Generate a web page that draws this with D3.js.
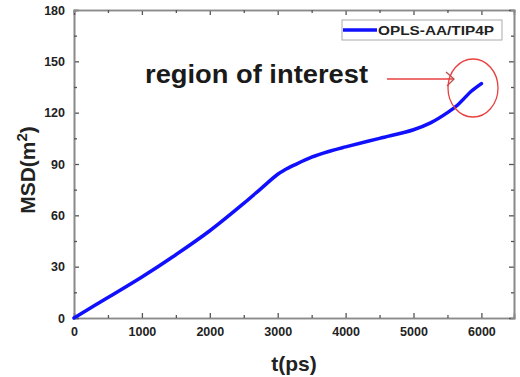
<!DOCTYPE html>
<html>
<head>
<meta charset="utf-8">
<script src="https://cdn.jsdelivr.net/npm/d3@7"></script>
<style>
  body { margin: 0; background: #fff; }
  text { font-family: "Liberation Sans", Arial, sans-serif; font-weight: bold; }
</style>
</head>
<body>
<div id="chart"></div>
<script>
// data
let times = [0, 500, 1000, 1500, 2000, 2500, 2750, 3000, 3100, 3250, 3500, 3750, 4000, 4500, 5000, 5250, 5500, 5650, 5750, 5850, 6000];
let msd   = [0, 12, 24, 37, 51, 67, 75.5, 84, 86.5, 89.5, 94, 97.3, 100, 105, 110, 114, 120, 124.5, 128.5, 132.5, 137];
let xTicks = [0, 1000, 2000, 3000, 4000, 5000, 6000];
let yTicks = [0, 30, 60, 90, 120, 150, 180];
let seriesName = "OPLS-AA/TIP4P";

let width = 520, height = 377;
let margin = {left: 74, right: 6, top: 10, bottom: 59};

let svg = d3.select("#chart").append("svg")
    .attr("width", width)
    .attr("height", height);

let x = d3.scaleLinear().domain([0, 6480]).range([margin.left, width - margin.right]);
let y = d3.scaleLinear().domain([0, 180]).range([height - margin.bottom, margin.top]);

let axisColor = "#8a8a8a";
let labelColor = "#222";

// minor ticks
let xMinor = d3.range(500, 6500, 1000);
let yMinor = d3.range(15, 180, 30);

function styleAxis(g) {
    g.select(".domain").attr("stroke", axisColor).attr("stroke-width", 1.6);
    g.selectAll(".tick line").attr("stroke", "#555").attr("stroke-width", 1.3);
    g.selectAll(".tick text").attr("fill", labelColor).style("font-size", "12.5px");
}

// bottom
svg.append("g")
    .attr("transform", "translate(0," + y(0) + ")")
    .call(d3.axisBottom(x).tickValues(xTicks).tickSize(-5).tickPadding(9).tickFormat(d3.format("d")))
    .call(styleAxis);
svg.append("g")
    .attr("transform", "translate(0," + y(0) + ")")
    .call(d3.axisBottom(x).tickValues(xMinor).tickSize(-3).tickFormat(""))
    .call(styleAxis);

// left
svg.append("g")
    .attr("transform", "translate(" + x(0) + ",0)")
    .call(d3.axisLeft(y).tickValues(yTicks).tickSize(-5).tickPadding(9))
    .call(styleAxis);
svg.append("g")
    .attr("transform", "translate(" + x(0) + ",0)")
    .call(d3.axisLeft(y).tickValues(yMinor).tickSize(-3).tickFormat(""))
    .call(styleAxis);

// top
svg.append("g")
    .attr("transform", "translate(0," + margin.top + ")")
    .call(d3.axisTop(x).tickValues(xTicks).tickSize(-5).tickFormat(""))
    .call(styleAxis);
svg.append("g")
    .attr("transform", "translate(0," + margin.top + ")")
    .call(d3.axisTop(x).tickValues(xMinor).tickSize(-3).tickFormat(""))
    .call(styleAxis);

// right
svg.append("g")
    .attr("transform", "translate(" + (width - margin.right) + ",0)")
    .call(d3.axisRight(y).tickValues(yTicks).tickSize(-5).tickFormat(""))
    .call(styleAxis);
svg.append("g")
    .attr("transform", "translate(" + (width - margin.right) + ",0)")
    .call(d3.axisRight(y).tickValues(yMinor).tickSize(-3).tickFormat(""))
    .call(styleAxis);

// the curve
let line = d3.line()
    .x((d, i) => x(times[i]))
    .y(d => y(d))
    .curve(d3.curveCatmullRom.alpha(0.5));

svg.append("path")
    .datum(msd)
    .attr("d", line)
    .attr("fill", "none")
    .attr("stroke", "#1010ff")
    .attr("stroke-width", 3.5)
    .attr("stroke-linecap", "round");

// axis titles
svg.append("text")
    .attr("x", (x(0) + x.range()[1]) / 2)
    .attr("y", 371)
    .attr("text-anchor", "middle")
    .attr("fill", labelColor)
    .style("font-size", "21px")
    .text("t(ps)");

let yTitle = svg.append("text")
    .attr("transform", "translate(35," + 170 + ") rotate(-90)")
    .attr("text-anchor", "middle")
    .attr("fill", labelColor)
    .style("font-size", "21px");
yTitle.append("tspan").text("MSD(m");
yTitle.append("tspan").attr("dy", -8).style("font-size", "15px").text("2");
yTitle.append("tspan").attr("dy", 8).text(")");

// legend
let legend = svg.append("g");
legend.append("rect")
    .attr("x", 342).attr("y", 20)
    .attr("width", 160).attr("height", 20)
    .attr("fill", "#fff")
    .attr("stroke", "#aaa")
    .attr("stroke-width", 1);
legend.append("line")
    .attr("x1", 343).attr("x2", 377)
    .attr("y1", 30).attr("y2", 30)
    .attr("stroke", "#1010ff")
    .attr("stroke-width", 3.5);
legend.append("text")
    .attr("x", 378).attr("y", 35)
    .attr("fill", labelColor)
    .attr("textLength", 116)
    .attr("lengthAdjust", "spacingAndGlyphs")
    .style("font-size", "13px")
    .text(seriesName);

// annotation
svg.append("text")
    .attr("x", 145).attr("y", 83)
    .attr("fill", "#1a1a1a")
    .attr("textLength", 223)
    .attr("lengthAdjust", "spacingAndGlyphs")
    .style("font-size", "25px")
    .text("region of interest");

let red = "#e8403f";
svg.append("line")
    .attr("x1", 387).attr("x2", 453)
    .attr("y1", 79).attr("y2", 79)
    .attr("stroke", red)
    .attr("stroke-width", 1.6);
svg.append("path")
    .attr("d", "M446,72 L454,79 L447,86")
    .attr("fill", "none")
    .attr("stroke", "#b05050")
    .attr("stroke-width", 1.3);
svg.append("ellipse")
    .attr("cx", 473).attr("cy", 88)
    .attr("rx", 25).attr("ry", 29)
    .attr("fill", "none")
    .attr("stroke", red)
    .attr("stroke-width", 1.3);
</script>
</body>
</html>
